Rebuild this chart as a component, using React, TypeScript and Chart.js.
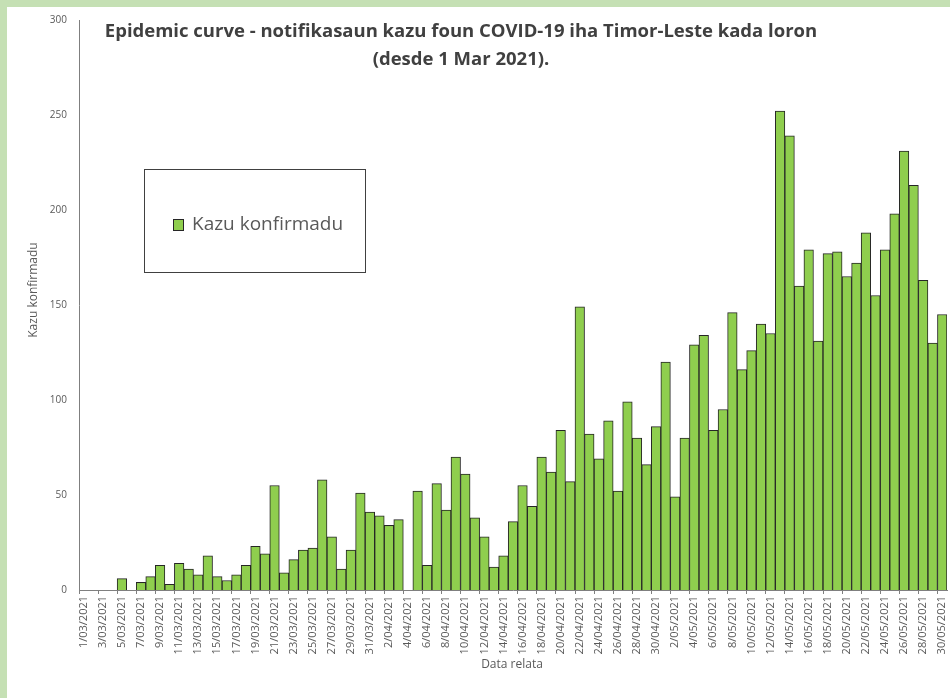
import React, { useEffect, useRef } from 'react';
import { Chart, registerables } from 'chart.js';

Chart.register(...registerables);

// ---- data ----
const MONTHS = [
  { month: '03', days: 31 },
  { month: '04', days: 30 },
  { month: '05', days: 30 },
];

const MARCH_CASES = [
  0, 0, 0, 0, 6, 0, 4, 7, 13, 3,
  14, 11, 8, 18, 7, 5, 8, 13, 23, 19,
  55, 9, 16, 21, 22, 58, 28, 11, 21, 51,
  41,
];
const APRIL_CASES = [
  39, 34, 37, 0, 52, 13, 56, 42, 70, 61,
  38, 28, 12, 18, 36, 55, 44, 70, 62, 84,
  57, 149, 82, 69, 89, 52, 99, 80, 66, 86,
];
const MAY_CASES = [
  120, 49, 80, 129, 134, 84, 95, 146, 116, 126,
  140, 135, 252, 239, 160, 179, 131, 177, 178, 165,
  172, 188, 155, 179, 198, 231, 213, 163, 130, 145,
];

const CASES = [...MARCH_CASES, ...APRIL_CASES, ...MAY_CASES];
const DATE_LABELS = MONTHS.flatMap(({ month, days }) =>
  Array.from({ length: days }, (_, i) => `${i + 1}/${month}/2021`)
);

const TITLE_LINES = [
  'Epidemic curve - notifikasaun kazu foun COVID-19 iha Timor-Leste kada loron',
  '(desde 1 Mar 2021).',
];
const SERIES_NAME = 'Kazu konfirmadu';
const Y_TITLE = 'Kazu konfirmadu';
const X_TITLE = 'Data relata';
const Y_MIN = 0;
const Y_MAX = 300;
const Y_STEP = 50;

// ---- styles ----
const BAR_COLOR = '#8fce4e';
const BAR_BORDER = '#262626';
const AXIS_COLOR = '#7f7f7f';
const TEXT_COLOR = '#595959';
const TITLE_COLOR = '#404040';
const FONT = '"Open Sans", "Noto Sans", sans-serif';

const overlayPlugin = {
  id: 'overlay',
  afterDraw(chart: any) {
    const { ctx } = chart;
    ctx.save();
    // title
    ctx.fillStyle = TITLE_COLOR;
    ctx.font = `bold 18.5px ${FONT}`;
    ctx.textAlign = 'center';
    ctx.textBaseline = 'middle';
    ctx.fillText(TITLE_LINES[0], 461, 32);
    ctx.fillText(TITLE_LINES[1], 461, 60);

    // legend box
    ctx.fillStyle = '#ffffff';
    ctx.fillRect(144.5, 169.5, 221, 103);
    ctx.strokeStyle = '#404040';
    ctx.lineWidth = 1;
    ctx.strokeRect(144.5, 169.5, 221, 103);
    ctx.fillStyle = BAR_COLOR;
    ctx.fillRect(173.5, 219.5, 10, 11);
    ctx.strokeStyle = BAR_BORDER;
    ctx.strokeRect(173.5, 219.5, 10, 11);
    ctx.fillStyle = TEXT_COLOR;
    ctx.font = `19px ${FONT}`;
    ctx.textAlign = 'left';
    ctx.textBaseline = 'middle';
    ctx.fillText(SERIES_NAME, 192, 225);

    // axis titles
    ctx.font = `12px ${FONT}`;
    ctx.textAlign = 'center';
    ctx.fillText(X_TITLE, 512, 665);
    ctx.translate(34, 290);
    ctx.rotate(-Math.PI / 2);
    ctx.fillText(Y_TITLE, 0, 0);
    ctx.restore();
  },
};

export default function App() {
  const canvasRef = useRef<HTMLCanvasElement | null>(null);

  useEffect(() => {
    const canvas = canvasRef.current;
    if (!canvas) return;
    const chart = new Chart(canvas, {
      type: 'bar',
      data: {
        labels: DATE_LABELS,
        datasets: [
          {
            label: SERIES_NAME,
            data: CASES,
            backgroundColor: BAR_COLOR,
            borderColor: BAR_BORDER,
            borderWidth: 1,
            barPercentage: 1,
            categoryPercentage: 1,
          },
        ],
      },
      options: {
        animation: false,
        responsive: false,
        devicePixelRatio: 1,
        layout: { padding: { top: 20, right: 3, left: 0, bottom: 0 } },
        plugins: {
          legend: { display: false },
          tooltip: { enabled: false },
          title: { display: false },
        },
        scales: {
          x: {
            type: 'category',
            offset: true,
            grid: {
              display: true,
              offset: true,
              drawOnChartArea: false,
              drawTicks: true,
              tickLength: 4,
              color: (c: any) => (c.index % 2 === 0 ? AXIS_COLOR : 'rgba(0,0,0,0)'),
            },
            border: { display: true, color: AXIS_COLOR, width: 1 },
            ticks: {
              autoSkip: false,
              maxRotation: 90,
              minRotation: 90,
              padding: 2,
              color: TEXT_COLOR,
              font: { family: FONT, size: 11 },
              callback: (_v: any, i: number) => (i % 2 === 0 ? DATE_LABELS[i] : ''),
            },
            afterFit: (s: any) => {
              s.height = 108;
              s.paddingLeft = 0;
              s.paddingRight = 0;
            },
          },
          y: {
            min: Y_MIN,
            max: Y_MAX,
            grid: { display: false, drawTicks: false },
            border: { display: true, color: AXIS_COLOR, width: 1 },
            ticks: {
              stepSize: Y_STEP,
              padding: 12,
              color: TEXT_COLOR,
              font: { family: FONT, size: 10 },
            },
            afterFit: (s: any) => {
              s.width = 79;
              s.paddingTop = 0;
              s.paddingBottom = 0;
            },
          },
        },
      },
      plugins: [overlayPlugin],
    });
    return () => chart.destroy();
  }, []);

  return (
    <div
      style={{
        position: 'fixed',
        left: 0,
        top: 0,
        width: 950,
        height: 698,
        background: '#c5e0b4',
        overflow: 'hidden',
      }}
    >
      <div
        style={{
          position: 'absolute',
          left: 7,
          top: 7,
          width: 943,
          height: 691,
          background: '#ffffff',
        }}
      />
      <canvas
        ref={canvasRef}
        width={950}
        height={698}
        style={{ position: 'absolute', left: 0, top: 0, width: 950, height: 698 }}
      />
    </div>
  );
}
